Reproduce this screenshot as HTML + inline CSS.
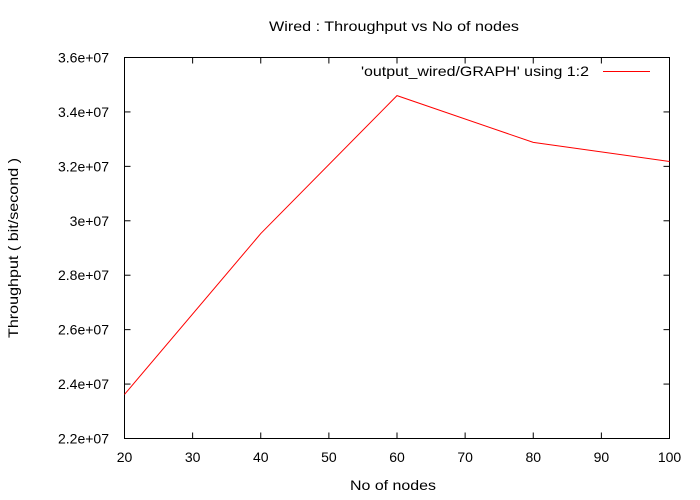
<!DOCTYPE html>
<html><head><meta charset="utf-8"><style>
body{margin:0;background:#fff;}
svg{display:block;font-family:"Liberation Sans",sans-serif;font-size:14px;}
</style></head><body>
<svg id="chart" width="700" height="500">
<text x="269" y="31" textLength="250" lengthAdjust="spacingAndGlyphs">Wired : Throughput vs No of nodes</text>
<text x="350" y="490" textLength="86" lengthAdjust="spacingAndGlyphs">No of nodes</text>
<text transform="translate(18,338) rotate(-90)" textLength="180" lengthAdjust="spacingAndGlyphs">Throughput ( bit/second )</text>
<rect x="124.5" y="57.5" width="545" height="381" fill="none" stroke="#000"/>
<g id="ticks"></g>
<text x="361" y="76" textLength="228" lengthAdjust="spacingAndGlyphs">'output_wired/GRAPH' using 1:2</text>
<line x1="603" y1="71.5" x2="650" y2="71.5" stroke="#f00"/>
<polyline id="series" fill="none" stroke="#f00" stroke-width="1"/>
</svg>
<script>
const nodes=[20,40,60,80,100];
const throughput=[2.362e7,2.953e7,3.460e7,3.288e7,3.218e7];
const xTicks=[20,30,40,50,60,70,80,90,100];
const yTicks=[2.2e7,2.4e7,2.6e7,2.8e7,3e7,3.2e7,3.4e7,3.6e7];
const yTickLabels=["2.2e+07","2.4e+07","2.6e+07","2.8e+07","3e+07","3.2e+07","3.4e+07","3.6e+07"];
const X0=124.5,X1=669.5,Y0=438.5,Y1=57.5;
const sx=v=>X0+(v-20)/80*(X1-X0);
const sy=v=>Y0-(v-2.2e7)/1.4e7*(Y0-Y1);
const NS="http://www.w3.org/2000/svg";
const g=document.getElementById('ticks');
function mk(t,a){const e=document.createElementNS(NS,t);for(const k in a)e.setAttribute(k,a[k]);return e;}
xTicks.forEach(v=>{const x=sx(v);
 const l1=mk('line',{x1:x,y1:Y0,x2:x,y2:Y0-6,stroke:'#000'});g.appendChild(l1);
 const l2=mk('line',{x1:x,y1:Y1,x2:x,y2:Y1+6,stroke:'#000'});g.appendChild(l2);
 const t=mk('text',{x:x,y:462,'text-anchor':'middle'});t.textContent=v;g.appendChild(t);});
yTicks.forEach((v,i)=>{const y=sy(v);
 const l1=mk('line',{x1:X0,y1:y,x2:X0+6,y2:y,stroke:'#000'});g.appendChild(l1);
 const l2=mk('line',{x1:X1,y1:y,x2:X1-6,y2:y,stroke:'#000'});g.appendChild(l2);
 const t=mk('text',{x:109,y:y+5,'text-anchor':'end'});t.textContent=yTickLabels[i];g.appendChild(t);});
document.getElementById('series').setAttribute('points',nodes.map((n,i)=>sx(n)+','+sy(throughput[i])).join(' '));
</script>
</body></html>
